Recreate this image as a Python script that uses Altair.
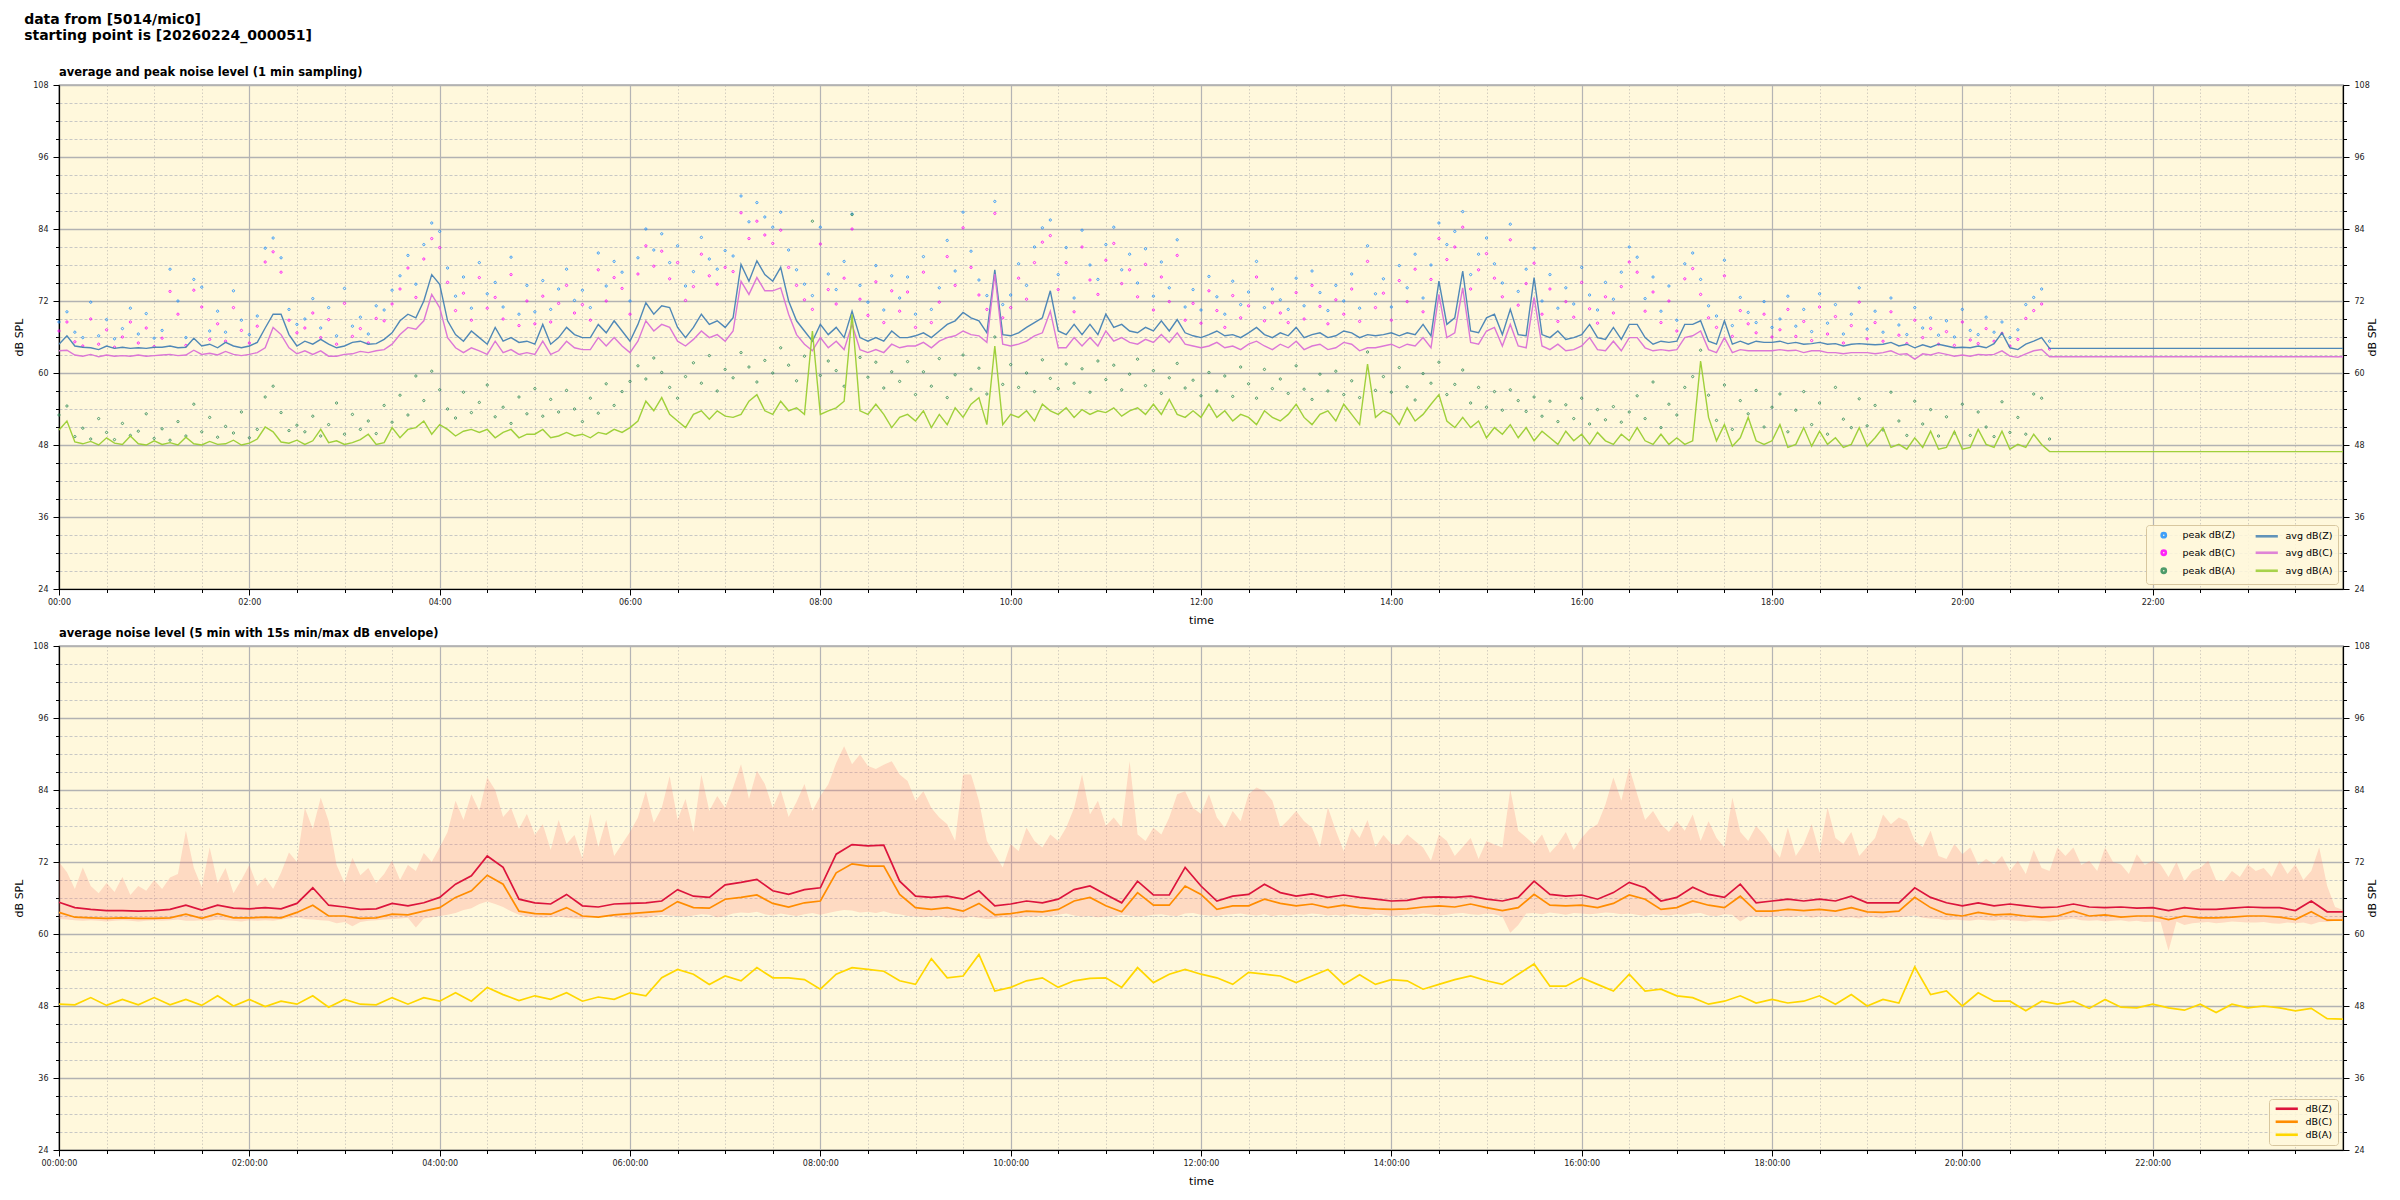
import altair as alt
import pandas as pd

FONT = "DejaVu Sans"

# ---------------- top panel: 5-min samples 00:00 .. 20:55 ----------------
avg_z = [
    # 00:00-02:30
    64.8, 66.2, 64.5, 64.3, 64.2, 63.9, 64.5, 64.1, 64.3, 64.1, 64.2, 64.1, 64.3, 64.3, 64.5, 64.2,
    64.3, 65.8, 64.5, 64.8, 64.2, 65.1, 64.5, 64.2, 64.5, 65.1, 67.5, 69.8, 69.8, 66.4, 64.5,
    # 02:35-08:45
    65.3, 64.8, 65.6, 64.8, 64.2, 64.5, 65.1, 65.3, 64.8, 64.9,
    65.6, 66.7, 68.7, 69.8, 69.2, 72.0, 76.4, 74.8, 68.7, 66.4,
    65.3, 67.0, 65.9, 64.8, 67.6, 65.3, 65.9, 65.1, 65.3, 64.8,
    68.1, 64.8, 65.9, 67.6, 66.4, 65.9, 65.9, 68.1, 66.7, 68.7,
    67.0, 65.3, 68.1, 71.7, 69.8, 71.2, 70.9, 67.6, 65.9, 67.6,
    69.8, 68.1, 68.7, 67.6, 69.2, 78.1, 75.3, 78.7, 76.4, 75.3,
    77.6, 72.0, 68.7, 67.0, 65.3, 68.1, 66.4, 67.6, 65.9, 70.3,
    65.9, 65.3, 65.9, 65.3, 67.0,
    # 08:50-16:30
    65.9, 65.9, 66.2, 66.7, 65.9, 67.0, 68.1, 68.7, 70.1, 69.2,
    68.7, 66.7, 77.2, 66.4, 66.2, 66.7, 67.6, 68.4, 69.2, 73.7,
    67.0, 66.4, 68.1, 66.4, 68.1, 66.4, 69.8, 67.6, 68.1, 67.0,
    66.7, 67.6, 67.0, 68.7, 67.0, 68.9, 66.7, 66.2, 65.9, 66.4,
    67.0, 66.2, 66.4, 65.9, 66.7, 67.6, 66.4, 65.9, 66.7, 66.2,
    67.6, 65.9, 66.4, 66.7, 65.9, 66.2, 67.0, 66.7, 65.9, 66.4,
    66.2, 66.4, 66.7, 66.2, 66.7, 66.4, 68.1, 66.2, 75.3, 68.1,
    69.2, 77.0, 67.0, 66.7, 69.2, 69.8, 66.4, 70.6, 66.4, 66.2,
    75.9, 66.4, 65.9, 67.0, 65.6, 65.9, 66.4, 68.1, 65.9, 65.6,
    67.6, 65.6, 68.1,
    # 16:35-20:55
    68.1, 65.9, 64.8, 65.3, 65.1, 65.3, 68.1, 68.1, 68.7, 65.3,
    64.8, 68.7, 64.8, 65.3, 64.8, 65.3, 65.1, 65.1, 65.3, 64.9,
    65.1, 64.8, 64.9, 65.1, 64.8, 64.9, 64.5, 64.8, 64.9, 64.8,
    64.7, 64.8, 65.1, 64.5, 64.8, 64.2, 64.7, 64.3, 64.8, 64.5,
    64.2, 64.3, 64.2, 64.5, 64.2, 64.9, 66.7, 64.2, 63.9, 64.8,
    65.3, 65.9, 64.1,
]
avg_c = [
    63.7, 63.8, 63.0, 62.8, 63.1, 62.7, 63.0, 62.8, 62.9, 62.8, 63.0, 62.8, 62.9, 63.0, 63.1, 62.9,
    63.0, 63.8, 63.1, 63.3, 63.0, 63.6, 63.1, 62.9, 63.1, 63.4, 64.2, 67.6, 66.4, 64.2, 63.2,
    63.7, 63.1, 63.7, 62.8, 62.8, 63.1, 63.2, 63.6, 63.4, 63.7,
    63.9, 64.8, 66.4, 67.6, 67.3, 68.7, 73.1, 70.9, 65.9, 64.2,
    63.4, 64.2, 63.7, 63.1, 65.3, 63.4, 63.9, 63.1, 63.4, 63.1,
    65.3, 63.1, 63.7, 65.3, 64.2, 63.9, 63.9, 65.9, 64.5, 65.9,
    64.5, 63.4, 65.3, 68.7, 67.0, 68.1, 67.6, 65.3, 64.5, 65.6,
    67.0, 65.9, 66.4, 65.3, 67.0, 75.3, 73.1, 75.9, 73.7, 73.7,
    74.2, 69.8, 66.4, 64.8, 63.7, 65.9, 64.2, 65.3, 63.9, 68.1,
    63.9, 63.4, 63.9, 63.4, 64.8,
    64.2, 64.5, 64.5, 65.1, 64.2, 65.3, 65.9, 66.2, 67.0, 66.4,
    66.2, 65.1, 76.5, 64.8, 64.5, 64.8, 65.3, 66.2, 66.7, 70.3,
    64.2, 64.2, 65.9, 64.5, 65.9, 64.5, 67.0, 65.3, 65.9, 65.1,
    64.8, 65.6, 65.1, 66.4, 65.1, 66.7, 64.8, 64.5, 64.2, 64.5,
    65.1, 64.2, 64.5, 63.9, 64.8, 65.3, 64.5, 63.9, 64.8, 64.2,
    65.3, 63.9, 64.5, 64.8, 63.9, 64.2, 65.1, 64.8, 63.7, 64.2,
    64.2, 64.5, 64.8, 64.2, 64.8, 64.5, 65.9, 64.2, 73.1, 65.9,
    66.7, 74.2, 65.1, 64.8, 67.0, 67.6, 64.5, 68.1, 64.5, 64.2,
    72.6, 64.5, 63.9, 64.8, 63.7, 63.9, 64.5, 65.9, 63.9, 63.7,
    65.3, 63.7, 65.9,
    65.9, 64.2, 63.7, 63.9, 63.7, 63.9, 65.9, 66.2, 67.0, 63.9,
    63.4, 65.9, 63.4, 63.9, 63.7, 63.7, 63.7, 63.7, 63.9, 63.7,
    63.8, 63.4, 63.7, 63.7, 63.4, 63.4, 63.2, 63.4, 63.4, 63.4,
    63.2, 63.4, 63.7, 63.1, 63.2, 62.3, 63.2, 63.0, 63.4, 63.1,
    62.8, 63.0, 62.8, 63.1, 63.0, 63.1, 63.7, 62.8, 62.6, 63.2,
    63.7, 63.9, 62.7,
]
avg_a = [
    50.5, 52.0, 48.5, 48.2, 48.6, 48.0, 49.2, 48.3, 48.1, 49.5, 48.2, 48.0, 48.7, 48.1, 48.4, 48.0,
    49.3, 48.2, 48.0, 48.6, 48.1, 48.2, 48.8, 48.0, 48.3, 49.0, 51.0, 50.2, 48.5, 48.3, 48.8,
    48.1, 48.7, 50.6, 48.4, 48.7, 48.1, 48.4, 48.9, 49.8, 48.1,
    48.4, 50.9, 49.2, 50.6, 50.9, 52.0, 49.8, 51.4, 50.6, 49.5,
    50.3, 50.6, 50.1, 50.6, 49.2, 50.1, 50.6, 49.2, 49.8, 49.8,
    50.6, 49.2, 49.5, 50.1, 49.5, 49.8, 49.2, 50.1, 49.8, 50.6,
    50.1, 50.9, 52.0, 55.3, 53.7, 55.9, 53.1, 52.0, 50.9, 53.1,
    53.7, 52.3, 53.7, 52.8, 52.6, 53.1, 55.3, 56.4, 53.7, 53.1,
    55.3, 53.7, 54.2, 53.1, 67.0, 53.1, 53.7, 54.2, 55.3, 69.8,
    53.7, 53.1, 54.8, 53.1, 50.9,
    52.6, 53.1, 52.0, 53.7, 50.9, 53.1, 51.4, 54.2, 52.6, 54.8,
    55.9, 51.4, 64.5, 51.4, 53.1, 52.6, 53.7, 52.0, 54.8, 53.7,
    53.1, 54.2, 52.6, 53.9, 53.1, 53.7, 53.4, 54.2, 52.8, 53.7,
    54.2, 53.1, 54.8, 53.1, 55.6, 53.1, 52.6, 53.7, 52.6, 54.8,
    52.6, 53.7, 52.0, 53.1, 52.6, 51.4, 53.7, 52.6, 52.0, 53.1,
    54.8, 52.6, 51.4, 53.1, 53.7, 52.0, 54.8, 53.1, 51.4, 61.5,
    52.6, 53.7, 53.1, 51.4, 54.2, 52.0, 53.1, 54.8, 56.4, 52.0,
    50.9, 52.6, 50.9, 52.0, 49.2, 50.9, 49.8, 51.4, 49.2, 50.9,
    48.7, 50.3, 49.2, 48.1, 50.3, 48.7, 49.8, 48.1, 50.1, 48.7,
    48.1, 49.8, 48.7,
    50.9, 48.7, 48.1, 49.8, 48.1, 49.2, 48.1, 48.7, 62.0, 52.6,
    48.7, 51.4, 47.8, 49.2, 52.6, 48.7, 48.1, 48.7, 51.4, 47.6,
    48.1, 50.9, 47.8, 50.3, 48.1, 49.2, 47.6, 48.1, 50.9, 47.8,
    49.2, 50.9, 47.6, 48.1, 47.3, 49.2, 47.6, 50.3, 47.3, 47.6,
    50.3, 47.3, 47.6, 50.6, 48.1, 47.6, 50.3, 47.3, 48.1, 47.6,
    49.8, 48.1, 46.9,
]
# level held from the last sample to the end of the day
tail_hour = 24.0
tail_z, tail_c, tail_a = 64.1, 62.7, 46.9

peak_z = [
    68.5, 70.2, 66.8, 65.9, 71.8, 66.2, 68.9, 65.7, 67.4, 70.8, 66.5, 69.9, 65.8, 67.1, 77.3, 72.0,
    65.9, 75.6, 74.3, 67.0, 70.3, 66.8, 73.7, 68.8, 66.4, 69.5, 80.8, 82.5, 79.2, 70.6, 68.1,
    69.0, 72.4, 67.5, 70.9, 66.2, 74.1, 67.8, 69.3, 66.5, 71.2,
    70.5, 73.8, 76.2, 79.6, 74.8, 81.4, 85.0, 83.6, 77.5, 72.8,
    76.0, 70.8, 78.4, 73.2, 75.1, 71.0, 79.3, 69.8, 74.6, 70.2,
    75.4, 70.6, 74.0, 77.3, 72.1, 73.8, 70.9, 80.0, 74.5, 78.6,
    76.8, 72.0, 79.2, 84.0, 80.5, 83.2, 78.4, 81.2, 74.5, 76.9,
    82.6, 79.0, 77.3, 80.4, 79.5, 89.5, 85.2, 88.4, 86.0, 84.3,
    86.8, 80.5, 77.2, 74.8, 72.9, 84.3, 76.5, 73.9, 78.6, 86.5,
    74.6, 71.8, 77.9, 70.5, 76.2,
    72.5, 76.0, 69.8, 79.4, 70.6, 74.2, 82.1, 77.0, 86.8, 80.3,
    75.5, 72.9, 88.6, 71.4, 73.0, 78.2, 74.6, 81.0, 84.2, 85.5,
    76.4, 80.9, 72.5, 83.8, 78.0, 75.6, 81.4, 84.3, 77.2, 79.8,
    75.0, 80.7, 72.8, 78.5, 74.2, 82.2, 71.0, 73.9, 70.5, 76.1,
    72.7, 69.8, 75.3, 71.4, 73.5, 78.6, 70.9, 74.0, 72.2, 70.6,
    75.8, 71.2, 77.0, 73.4, 70.4, 74.6, 72.0, 76.5, 70.8, 81.2,
    73.2, 75.7, 71.0, 77.9, 74.2, 79.8, 72.5, 78.0, 85.0, 81.4,
    83.6, 86.9, 76.4, 79.8, 82.5, 78.2, 75.0, 84.8, 73.6, 77.3,
    80.8, 72.0, 76.4, 70.8, 74.2, 71.5, 77.6, 73.0, 70.5, 75.1,
    72.3, 76.8, 81.0,
    79.3, 72.4, 76.0, 70.3, 74.5, 68.8, 78.2, 80.0, 75.6, 71.2,
    69.5, 78.8, 67.9, 72.6, 70.1, 68.4, 71.9, 67.6, 69.0, 72.8,
    67.8, 70.6, 66.9, 73.2, 68.3, 71.4, 66.5, 69.8, 74.2, 67.3,
    70.3, 66.8, 72.5, 68.0, 66.4, 70.9, 67.5, 69.2, 66.3, 68.7,
    66.0, 70.6, 67.1, 66.4, 69.3, 66.8, 68.5, 65.9, 67.2, 71.4,
    72.6, 74.0, 65.3,
]
peak_c = [
    67.0, 68.5, 65.2, 64.5, 69.0, 64.8, 67.2, 64.3, 66.0, 68.5, 65.0, 67.5, 64.4, 65.8, 73.6, 69.8,
    64.6, 73.8, 71.0, 65.6, 68.2, 65.3, 70.9, 67.1, 65.0, 67.8, 78.5, 80.2, 76.8, 68.8, 66.7,
    67.5, 70.0, 65.9, 68.9, 64.8, 71.6, 66.1, 67.4, 65.0, 69.1,
    68.7, 71.5, 74.0, 77.5, 72.6, 79.0, 82.4, 80.9, 75.1, 70.4,
    73.3, 68.8, 75.9, 70.8, 72.6, 69.0, 76.4, 67.9, 72.0, 68.2,
    72.8, 68.5, 71.6, 74.6, 70.0, 71.4, 68.8, 77.2, 72.0, 75.9,
    74.1, 69.8, 76.5, 81.2, 77.8, 80.3, 75.7, 78.4, 72.1, 74.4,
    79.8, 76.2, 74.8, 77.6, 76.9, 86.7, 82.4, 85.3, 83.0, 81.6,
    83.8, 77.6, 74.6, 72.2, 70.6, 81.5, 73.9, 71.5, 75.8, 84.0,
    72.3, 69.6, 75.2, 68.4, 73.7,
    70.3, 73.5, 67.6, 76.8, 68.4, 71.8, 79.4, 74.6, 84.2, 77.6,
    73.0, 70.6, 86.6, 69.2, 70.9, 75.8, 72.3, 78.4, 81.8, 82.9,
    73.9, 78.4, 70.2, 81.0, 75.5, 73.1, 78.8, 81.6, 74.9, 77.2,
    72.7, 78.1, 70.5, 76.0, 71.9, 79.6, 68.8, 71.6, 68.3, 73.7,
    70.4, 67.6, 72.9, 69.2, 71.2, 76.0, 68.7, 71.7, 70.0, 68.4,
    73.4, 69.0, 74.6, 71.1, 68.2, 72.2, 69.8, 74.0, 68.6, 78.6,
    70.9, 73.3, 68.8, 75.4, 71.9, 77.3, 70.2, 75.6, 82.4, 78.9,
    81.0, 84.3, 74.0, 77.2, 79.9, 75.8, 72.7, 82.2, 71.3, 74.9,
    78.3, 69.8, 74.0, 68.6, 71.9, 69.3, 75.1, 70.7, 68.3, 72.7,
    70.0, 74.4, 78.5,
    76.8, 70.3, 73.5, 68.4, 72.0, 67.0, 75.7, 77.4, 73.1, 69.2,
    67.6, 76.2, 66.1, 70.4, 68.2, 66.7, 69.8, 66.0, 67.2, 70.6,
    66.1, 68.6, 65.4, 71.0, 66.5, 69.4, 65.0, 67.9, 71.8, 65.7,
    68.4, 65.3, 70.2, 66.3, 64.9, 68.8, 65.9, 67.4, 64.8, 66.9,
    64.6, 68.5, 65.5, 64.9, 67.4, 65.3, 66.6, 64.5, 65.6, 69.1,
    70.4, 71.5, 64.0,
]
peak_a = [
    53.0, 54.5, 49.4, 50.8, 49.0, 52.4, 50.1, 48.9, 51.6, 49.6, 50.3, 53.2, 49.1, 50.7, 48.8, 51.9,
    49.5, 54.8, 50.2, 52.6, 49.3, 51.1, 50.0, 53.5, 49.2, 50.6, 56.0, 57.8, 53.4, 50.4, 51.3,
    50.2, 52.8, 49.5, 51.4, 55.0, 49.8, 53.1, 50.6, 52.0, 49.9,
    54.6, 51.8, 56.3, 53.0, 59.5, 55.4, 60.3, 57.2, 54.0, 52.5,
    56.8, 53.4, 55.1, 58.0, 52.7, 54.3, 51.6, 56.0, 53.2, 57.4,
    52.8, 55.6, 53.5, 57.1, 54.0, 51.9, 55.8, 53.3, 58.2, 54.6,
    56.9, 58.6, 61.2, 59.0, 62.5, 60.1, 57.6, 55.8, 59.4, 61.7,
    58.3, 62.9, 57.0, 60.6, 59.2, 63.4, 61.0, 58.5, 62.1, 60.0,
    64.2, 61.3, 58.7, 62.8, 85.3, 59.6, 62.0, 60.4, 57.8, 86.4,
    62.6, 59.3, 61.8, 57.5, 60.2,
    58.6, 61.9, 56.4, 60.2, 57.8, 62.4, 55.9, 59.7, 63.0, 57.3,
    60.8, 56.5, 66.0, 58.1, 61.4, 57.6, 60.0, 56.9, 62.2, 59.1,
    57.4, 61.5, 58.3, 60.7, 56.8, 62.0, 58.9, 61.3, 57.2, 59.8,
    62.3, 57.9, 60.4, 56.6, 59.2, 61.6, 57.5, 58.8, 56.2, 60.1,
    57.0, 59.5, 56.1, 61.0, 58.2, 55.8, 60.6, 57.4, 59.0, 56.6,
    61.2, 57.3, 55.6, 59.8, 57.0, 60.3, 56.4, 58.7, 55.9, 63.5,
    57.1, 59.4, 56.8, 60.9, 57.7, 55.5, 59.9, 58.3, 61.8, 56.4,
    58.1, 60.5, 55.0, 57.6, 54.3, 56.9, 53.8, 57.2, 55.4, 53.6,
    56.0, 52.8, 55.3, 51.9, 54.7, 52.4, 55.8, 51.5, 53.9, 52.2,
    54.4, 51.8, 53.5,
    56.2, 52.4, 58.5, 50.9, 54.8, 53.0, 57.6, 59.4, 63.8, 56.3,
    52.1, 58.0, 50.6, 55.4, 53.2, 57.1, 51.0, 54.3, 56.5, 50.2,
    53.8, 56.9, 51.4, 55.0, 49.8, 57.6, 52.3, 50.9, 55.7, 51.2,
    54.6, 50.5, 56.8, 52.0, 49.6, 55.3, 51.5, 53.9, 49.5, 52.7,
    50.0, 54.8, 49.6, 53.5, 51.0, 49.4, 55.2, 50.1, 52.6, 49.8,
    56.5, 55.8, 49.0,
]

# ---------------- bottom panel: 5-min averages every 10 min, 00:00 .. 24:00 ----------------
bot_z = [
    65.3, 64.4, 64.1, 63.9, 63.9, 63.8, 63.9, 64.1, 64.8, 64.0, 64.8, 64.3,
    64.2, 64.4, 64.2, 65.1, 67.7, 64.8, 64.5, 64.1, 64.2, 65.1, 64.7, 65.2,
    66.1, 68.3, 69.7, 73.0, 71.1, 65.8, 65.2, 65.0, 66.6, 64.7, 64.5, 65.0,
    65.1, 65.2, 65.5, 67.4, 66.3, 66.1, 68.2, 68.6, 69.1, 67.2, 66.6, 67.4,
    67.7, 73.3, 74.9, 74.7, 74.8, 68.8, 66.3, 66.1, 66.3, 65.8, 67.2, 64.7,
    65.0, 65.5, 65.2, 65.8, 67.4, 68.0, 66.6, 65.2, 68.8, 66.5, 66.5, 71.1,
    68.0, 65.5, 66.3, 66.6, 68.3, 66.9, 66.3, 66.7, 66.1, 66.5, 66.1, 65.8,
    65.5, 65.6, 66.1, 66.2, 66.1, 66.3, 65.8, 65.5, 66.1, 68.8, 66.6, 66.3,
    66.5, 65.8, 66.9, 68.6, 67.7, 65.5, 66.1, 67.8, 66.6, 66.1, 68.3, 65.2,
    65.5, 65.8, 65.5, 65.8, 65.5, 66.3, 65.2, 65.2, 65.2, 67.7, 66.1, 65.2,
    64.7, 65.2, 64.7, 65.0, 64.7, 64.4, 64.5, 65.0, 64.5, 64.4, 64.5, 64.3,
    64.4, 63.9, 64.4, 64.1, 64.1, 64.3, 64.5, 64.4, 64.4, 63.9, 65.5, 63.7,
    63.7,
]
bot_c = [
    63.6, 62.8, 62.7, 62.6, 62.7, 62.6, 62.6, 62.7, 63.3, 62.6, 63.4, 62.7,
    62.7, 62.8, 62.7, 63.6, 64.8, 63.0, 63.0, 62.6, 62.7, 63.3, 63.2, 63.8,
    64.4, 66.1, 67.2, 69.8, 68.3, 63.8, 63.4, 63.3, 64.4, 63.0, 62.8, 63.2,
    63.4, 63.6, 63.8, 65.4, 64.4, 64.3, 65.8, 66.1, 66.5, 65.1, 64.5, 65.2,
    65.5, 70.2, 71.7, 71.3, 71.3, 66.6, 64.4, 64.1, 64.4, 63.8, 65.1, 63.2,
    63.4, 63.8, 63.7, 64.1, 65.5, 66.1, 64.7, 63.7, 66.9, 64.8, 64.8, 68.0,
    66.6, 64.1, 64.7, 64.7, 65.8, 65.1, 64.7, 65.0, 64.4, 64.8, 64.4, 64.2,
    64.1, 64.2, 64.5, 64.7, 64.5, 65.0, 64.4, 63.9, 64.4, 66.6, 64.8, 64.7,
    64.8, 64.4, 65.1, 66.5, 65.8, 64.1, 64.4, 65.5, 64.8, 64.4, 66.3, 63.8,
    63.8, 64.1, 63.9, 64.1, 63.8, 64.4, 63.7, 63.6, 63.8, 66.1, 64.4, 63.3,
    63.0, 63.6, 63.2, 63.3, 63.0, 62.8, 63.0, 63.8, 63.0, 63.2, 62.8, 63.0,
    63.0, 62.4, 63.0, 62.7, 62.7, 62.8, 63.0, 63.0, 62.8, 62.4, 63.7, 62.3,
    62.3,
]
bot_a = [
    48.3, 48.2, 49.4, 48.1, 49.1, 48.2, 49.4, 48.2, 49.1, 48.1, 49.7, 48.0,
    49.1, 47.9, 48.8, 48.3, 49.7, 47.8, 49.1, 48.3, 48.2, 49.4, 48.3, 49.4,
    48.8, 50.2, 48.8, 51.1, 49.9, 48.9, 49.7, 49.1, 50.2, 48.8, 49.5, 49.1,
    50.2, 49.7, 52.7, 54.1, 53.3, 51.6, 53.0, 52.2, 54.4, 52.7, 52.7, 52.4,
    50.8, 53.3, 54.4, 54.1, 53.8, 52.2, 51.6, 55.9, 52.7, 53.0, 56.6, 50.5,
    51.1, 52.2, 52.7, 51.1, 52.2, 52.6, 52.7, 51.1, 54.4, 51.9, 53.3, 54.1,
    53.3, 52.7, 51.6, 53.6, 53.3, 53.0, 51.9, 53.0, 54.1, 51.6, 53.2, 51.6,
    52.4, 52.2, 50.8, 51.6, 52.4, 53.0, 52.2, 51.6, 53.3, 55.0, 51.3, 51.3,
    52.7, 51.6, 50.5, 53.3, 50.5, 50.8, 49.7, 49.4, 48.3, 48.8, 49.7, 48.5,
    49.1, 48.5, 48.8, 49.7, 48.3, 49.9, 48.0, 49.1, 48.5, 54.5, 49.9, 50.5,
    48.0, 50.2, 48.8, 48.8, 47.2, 48.8, 48.3, 48.8, 47.6, 49.1, 47.8, 47.7,
    48.3, 47.7, 47.3, 48.3, 46.9, 48.3, 47.7, 48.0, 47.7, 47.2, 47.6, 45.9,
    45.8,
]

# 15 s min/max envelope, read every 5 min (first row 00:00..01:00, then one row per hour)
env_max_rows = [
    [72.0, 70.3, 67.5, 71.1, 68.0, 66.8, 68.5, 67.0, 69.5, 66.5, 68.0, 67.2, 69.0],
    [67.5, 69.4, 70.0, 77.2, 71.0, 67.8, 74.4, 68.5, 71.0, 66.8, 69.0, 71.5],
    [68.0, 69.4, 67.5, 70.2, 73.6, 72.0, 81.0, 77.5, 82.7, 78.8, 71.5, 68.5],
    [72.7, 69.8, 71.0, 68.5, 70.0, 72.2, 69.0, 71.5, 70.5, 73.5, 72.0, 74.4],
    [77.0, 82.2, 79.0, 83.3, 80.5, 86.1, 84.0, 79.5, 81.0, 77.5, 80.0, 76.5],
    [78.3, 74.0, 79.0, 75.0, 76.5, 72.5, 80.0, 74.5, 79.0, 73.0, 75.0, 77.0],
    [79.4, 83.8, 78.5, 81.0, 86.3, 79.0, 82.5, 77.0, 86.6, 80.5, 83.0, 81.0],
    [84.4, 88.3, 82.5, 87.2, 85.0, 81.0, 84.0, 79.5, 82.0, 85.0, 80.5, 83.0],
    [84.9, 88.5, 91.3, 88.3, 89.9, 88.0, 87.5, 88.2, 88.8, 86.6, 85.5, 82.2],
    [83.8, 81.0, 79.4, 78.3, 75.5, 86.6, 86.6, 82.2, 75.5, 73.3, 71.1, 75.0],
    [73.8, 77.7, 75.5, 74.4, 76.6, 75.5, 77.7, 81.0, 86.6, 79.9, 82.2, 78.0],
    [79.4, 77.7, 88.8, 76.6, 75.5, 77.7, 76.6, 79.4, 83.3, 83.8, 81.0, 80.0],
    [83.3, 79.4, 77.7, 80.5, 78.8, 83.3, 84.4, 83.8, 82.2, 77.7, 79.0, 80.5],
    [78.8, 77.7, 74.4, 81.1, 77.2, 73.8, 77.7, 76.0, 79.0, 74.5, 76.5, 75.0],
    [74.9, 76.6, 75.5, 74.4, 72.2, 76.6, 75.5, 73.0, 74.5, 76.0, 72.5, 75.5],
    [74.9, 74.4, 84.1, 77.2, 76.1, 74.9, 76.6, 73.5, 75.0, 77.0, 74.0, 76.0],
    [77.5, 78.3, 81.6, 86.1, 82.2, 87.7, 83.3, 79.0, 80.5, 78.3, 77.0, 78.8],
    [77.2, 79.9, 75.5, 78.8, 76.0, 74.4, 82.7, 77.0, 75.5, 78.0, 76.5, 74.5],
    [72.7, 77.7, 73.0, 75.0, 78.3, 73.5, 81.1, 76.0, 75.0, 77.0, 73.0, 74.5],
    [76.0, 79.9, 78.3, 79.4, 78.8, 75.5, 74.5, 77.2, 73.0, 72.5, 75.0, 73.3],
    [74.4, 71.5, 72.5, 71.6, 73.0, 70.5, 72.2, 70.0, 74.0, 71.0, 70.5, 74.4],
    [73.0, 74.4, 71.5, 72.2, 70.5, 74.4, 72.0, 71.6, 70.0, 73.3, 71.5, 72.2],
    [71.6, 69.5, 72.0, 68.8, 70.5, 71.0, 72.2, 69.0, 68.8, 70.5, 69.5, 71.6],
    [70.5, 71.0, 69.5, 72.2, 70.0, 71.6, 69.0, 70.5, 74.4, 68.0, 64.5, 64.0],
]
env_min_rows = [
    [62.5, 62.4, 62.3, 62.2, 62.3, 62.2, 62.1, 62.2, 62.3, 62.2, 62.1, 62.2, 62.3],
    [62.2, 62.3, 62.4, 62.2, 62.2, 62.3, 62.2, 62.4, 62.3, 62.2, 62.1, 62.3],
    [62.2, 62.3, 62.2, 62.4, 62.6, 62.8, 62.5, 62.4, 62.3, 62.2, 61.8, 62.0],
    [61.3, 62.0, 62.2, 62.3, 62.4, 62.5, 62.6, 62.7, 61.1, 62.6, 62.8, 63.0],
    [63.2, 63.5, 64.0, 64.3, 65.0, 65.4, 65.0, 64.5, 63.8, 63.2, 62.9, 62.8],
    [62.7, 62.8, 62.9, 62.7, 62.6, 62.5, 62.7, 62.8, 62.9, 62.8, 62.6, 62.6],
    [62.8, 62.7, 63.0, 63.2, 63.1, 63.0, 62.9, 63.1, 63.3, 63.2, 62.8, 63.0],
    [63.4, 63.6, 63.5, 63.7, 63.3, 63.1, 63.4, 63.2, 63.0, 63.3, 63.5, 63.2],
    [63.5, 63.8, 64.0, 63.9, 63.6, 63.7, 63.5, 63.8, 63.4, 63.3, 63.0, 62.9],
    [62.8, 62.9, 63.0, 62.7, 62.8, 62.6, 62.9, 62.7, 62.5, 62.6, 62.8, 62.7],
    [62.8, 63.0, 62.9, 63.1, 63.0, 63.2, 63.4, 63.1, 62.9, 63.0, 62.8, 62.9],
    [63.0, 63.2, 63.1, 62.9, 63.0, 63.2, 63.3, 63.1, 63.0, 63.4, 63.5, 63.2],
    [63.1, 63.0, 63.2, 63.3, 63.4, 63.2, 63.1, 63.3, 63.0, 63.2, 63.1, 63.3],
    [63.2, 63.4, 63.3, 63.1, 63.2, 63.0, 63.3, 63.2, 63.1, 63.4, 63.2, 63.0],
    [63.1, 63.3, 63.2, 63.4, 63.3, 63.1, 63.2, 63.4, 63.5, 63.3, 63.2, 63.4],
    [63.3, 62.9, 60.2, 61.5, 63.4, 63.5, 63.3, 63.6, 63.4, 63.2, 63.5, 63.4],
    [63.3, 63.4, 63.6, 63.5, 63.3, 63.4, 63.2, 63.0, 63.3, 63.2, 63.1, 63.3],
    [63.2, 63.4, 63.5, 63.1, 63.0, 63.3, 63.2, 62.1, 62.9, 63.0, 62.8, 62.9],
    [63.0, 62.8, 62.9, 63.1, 62.7, 62.9, 62.8, 63.0, 62.7, 62.8, 62.6, 62.9],
    [62.8, 62.6, 62.9, 62.8, 62.9, 63.1, 62.7, 62.6, 62.5, 62.3, 62.4, 62.3],
    [62.2, 62.4, 62.3, 62.2, 62.4, 62.3, 62.2, 62.1, 62.3, 62.2, 62.1, 62.3],
    [62.4, 62.6, 62.3, 62.2, 62.3, 62.1, 62.2, 62.3, 62.1, 62.2, 62.0, 62.1],
    [62.0, 57.2, 62.1, 61.5, 61.8, 61.9, 62.0, 61.8, 61.9, 62.1, 62.0, 61.9],
    [61.9, 62.0, 61.8, 61.7, 61.9, 61.8, 61.9, 61.6, 62.0, 62.0, 62.2, 62.3],
]
env_max = [v for row in env_max_rows for v in row]
env_min = [v for row in env_min_rows for v in row]

for arr in (avg_z, avg_c, avg_a, peak_z, peak_c, peak_a):
    assert len(arr) == 252, len(arr)
for arr in (bot_z, bot_c, bot_a):
    assert len(arr) == 145, len(arr)
assert len(env_max) == 289 and len(env_min) == 289

# ---------------- tables ----------------
# legend fills column by column: peaks in the first column, averages in the second
top_dom = ["peak dB(Z)", "peak dB(C)", "peak dB(A)", "avg dB(Z)", "avg dB(C)", "avg dB(A)"]
top_col = ["#1e90ff", "#ff00ff", "#2e8b57", "#4682b4", "#da70d6", "#9acd32"]
DOT = "M0.7,0A0.7,0.7,0,1,1,-0.7,0A0.7,0.7,0,1,1,0.7,0Z"
DASH = "M-3.7,0H3.7"
top_shape = [DOT, DOT, DOT, DASH, DASH, DASH]

bot_dom = ["dB(Z)", "dB(C)", "dB(A)"]
bot_col = ["#dc143c", "#ff8c00", "#ffd700"]

pts = []
for name, arr in (("peak dB(Z)", peak_z), ("peak dB(C)", peak_c), ("peak dB(A)", peak_a)):
    pts += [{"hour": i * 5 / 60, "db": v, "series": name} for i, v in enumerate(arr)]
pts = pd.DataFrame(pts)

lines = []
for name, arr, tail in (("avg dB(Z)", avg_z, tail_z), ("avg dB(C)", avg_c, tail_c), ("avg dB(A)", avg_a, tail_a)):
    lines += [{"hour": i * 5 / 60, "db": v, "series": name} for i, v in enumerate(arr)]
    lines.append({"hour": tail_hour, "db": tail, "series": name})
lines = pd.DataFrame(lines)

blines = []
for name, arr in (("dB(Z)", bot_z), ("dB(C)", bot_c), ("dB(A)", bot_a)):
    blines += [{"hour": i * 10 / 60, "db": v, "series": name} for i, v in enumerate(arr)]
blines = pd.DataFrame(blines)

env = pd.DataFrame({"hour": [i * 5 / 60 for i in range(289)], "lo": env_min, "hi": env_max})

# ---------------- axes ----------------
y_ticks = list(range(24, 109, 3))
x_ticks = [i * 0.5 for i in range(48)]
ymaj = "datum.value % 12 === 0"
xmaj = "datum.value % 2 === 0"


def cond(test, a, b):
    return {"condition": {"test": test, "value": a}, "value": b}


def yaxis(orient, grid):
    return alt.Axis(
        orient=orient, values=y_ticks, grid=grid,
        labelExpr=f"{ymaj} ? datum.label : ''",
        gridColor=cond(ymaj, "#b2b2b2", "#c2c2c2"),
        gridDash=cond(ymaj, [], [3, 2]),
        gridWidth=cond(ymaj, 1.7, 0.9),
        tickSize=cond(ymaj, 6, 3.5),
        labelOverlap=False, labelFlush=False, labelPadding=5,
        title="dB SPL", titleAngle=270, titlePadding=8,
    )


def xaxis(suffix):
    return alt.Axis(
        values=x_ticks, grid=True,
        labelExpr=f"{xmaj} ? (datum.value < 10 ? '0' : '') + datum.value + '{suffix}' : ''",
        gridColor=cond(xmaj, "#b4b4b4", "#cfcabc"),
        gridDash=cond(xmaj, [], [1.5, 2]),
        gridWidth=cond(xmaj, 1.2, 0.9),
        tickSize=cond(xmaj, 6, 3.5),
        labelOverlap=False, labelFlush=False, labelPadding=3,
        title="time", titlePadding=8,
    )


xs = alt.Scale(domain=[0, 24], nice=False, zero=False)
ys = alt.Scale(domain=[24, 108], nice=False, zero=False)

leg_common = dict(
    title=None, orient="bottom-right", offset=5, labelFont=FONT, labelFontSize=9.5,
    fillColor="rgba(255,248,220,0.85)", strokeColor="#d8c79f", cornerRadius=3,
    padding=5, symbolStrokeWidth=2.6, rowPadding=2, symbolSize=36, symbolOffset=8,
    labelOffset=14,
)

# ---------------- top chart ----------------
top_points = alt.Chart(pts).mark_point(filled=False, size=11, strokeWidth=1.0, opacity=0.85).encode(
    x=alt.X("hour:Q", scale=xs, axis=xaxis(":00")),
    y=alt.Y("db:Q", scale=ys, axis=yaxis("left", True)),
    color=alt.Color("series:N", scale=alt.Scale(domain=top_dom, range=top_col),
                    legend=alt.Legend(columns=2, columnPadding=14, **leg_common)),
    shape=alt.Shape("series:N", scale=alt.Scale(domain=top_dom, range=top_shape),
                    legend=alt.Legend(columns=2, columnPadding=14, **leg_common)),
)
top_lines = alt.Chart(lines).mark_line(strokeWidth=1.4, opacity=0.95).encode(
    x=alt.X("hour:Q", scale=xs, axis=xaxis(":00")),
    y=alt.Y("db:Q", scale=ys, axis=yaxis("right", False)),
    color=alt.Color("series:N", scale=alt.Scale(domain=top_dom, range=top_col), legend=None),
)
top = alt.layer(top_points, top_lines).resolve_axis(y="independent").properties(
    width=2284, height=504,
    title=alt.TitleParams("average and peak noise level (1 min sampling)", anchor="start", frame="group",
                          font=FONT, fontSize=11.5, fontWeight="bold", offset=3),
)

# ---------------- bottom chart ----------------
band = alt.Chart(env).mark_area(color="salmon", opacity=0.25).encode(
    x=alt.X("hour:Q", scale=xs, axis=xaxis(":00:00")),
    y=alt.Y("hi:Q", scale=ys, axis=yaxis("left", True)),
    y2="lo:Q",
)
bot_lines = alt.Chart(blines).mark_line(strokeWidth=1.7).encode(
    x=alt.X("hour:Q", scale=xs, axis=xaxis(":00:00")),
    y=alt.Y("db:Q", scale=ys, axis=yaxis("right", False)),
    color=alt.Color("series:N", scale=alt.Scale(domain=bot_dom, range=bot_col),
                    legend=alt.Legend(symbolType=DASH, **leg_common)),
)
bottom = alt.layer(band, bot_lines).resolve_axis(y="independent").properties(
    width=2284, height=504,
    title=alt.TitleParams("average noise level (5 min with 15s min/max dB envelope)", anchor="start",
                          frame="group", font=FONT, fontSize=11.5, fontWeight="bold", offset=3),
)

chart = alt.vconcat(top, bottom, spacing=0).resolve_scale(
    color="independent", shape="independent",
).properties(
    title=alt.TitleParams(["data from [5014/mic0]", "starting point is [20260224_000051]"],
                          anchor="start", font=FONT, fontSize=14, fontWeight="bold",
                          lineHeight=16, offset=23, dx=11),
    padding={"left": 5, "top": 4, "right": 2, "bottom": 5},
).configure_view(
    fill="#fff8dc", stroke="black", strokeWidth=1.2,
).configure_axis(
    labelFont=FONT, labelFontSize=8, labelColor="#222222",
    titleFont=FONT, titleFontSize=11, titleFontWeight="normal", titleColor="black",
    domainColor="black", domainWidth=1.2, tickColor="black", tickWidth=1,
).configure_title(color="black")

chart.save("out.html", embed_options={"renderer": "svg", "actions": False})
